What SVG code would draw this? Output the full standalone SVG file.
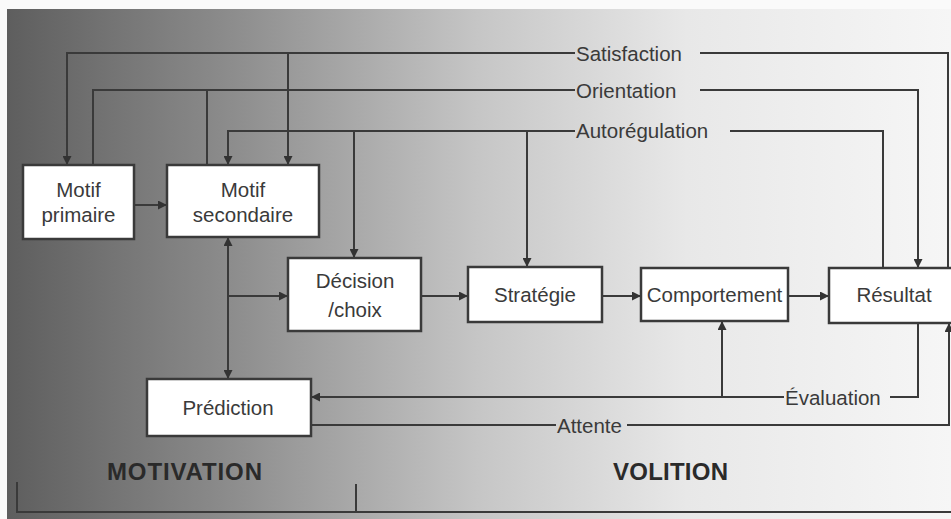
<svg xmlns="http://www.w3.org/2000/svg" width="951" height="519" viewBox="0 0 951 519">
<defs>
<linearGradient id="bg" x1="0" y1="0" x2="1" y2="0">
<stop offset="0" stop-color="#5e5e5e"/>
<stop offset="0.25" stop-color="#8f8f8f"/>
<stop offset="0.5" stop-color="#c6c6c6"/>
<stop offset="0.72" stop-color="#e8e8e8"/>
<stop offset="1" stop-color="#f6f6f6"/>
</linearGradient>
<marker id="arr" viewBox="0 0 10 10" refX="10" refY="5" markerWidth="9" markerHeight="9" markerUnits="userSpaceOnUse" orient="auto">
<path d="M0,0 L10,5 L0,10 z" fill="#333"/>
</marker>
</defs>
<style>
.box{fill:#fff;stroke:#3a3a3a;stroke-width:2.5}
.t{font-family:"Liberation Sans",Arial,sans-serif;font-size:20.5px;fill:#3a3a3a}
.c{text-anchor:middle}
.ln{fill:none;stroke:#3a3a3a;stroke-width:2}
.a{marker-end:url(#arr)}
.h{font-family:"Liberation Sans",Arial,sans-serif;font-weight:bold;font-size:24px;fill:#2a2a2a}
</style>
<rect x="0" y="0" width="951" height="519" fill="#fafafa"/>
<rect x="7" y="9" width="944" height="510" fill="url(#bg)"/>

<g id="connectors">
<!-- Satisfaction -->
<path class="ln" d="M948,268 L948,53 L700,53"/>
<path class="ln a" d="M575,53 L67,53 L67,165"/>
<path class="ln a" d="M288,53 L288,165"/>
<!-- Orientation -->
<path class="ln" d="M93,165 L93,90 L575,90"/>
<path class="ln" d="M207,165 L207,90"/>
<path class="ln a" d="M700,90 L918,90 L918,268"/>
<!-- Autoregulation -->
<path class="ln" d="M883,268 L883,131 L730,131"/>
<path class="ln a" d="M575,131 L228,131 L228,165"/>
<path class="ln a" d="M354,131 L354,258"/>
<path class="ln a" d="M527,131 L527,267"/>
<!-- main flow -->
<path class="ln a" d="M134,205 L167,205"/>
<path class="ln a" d="M228,296 L228,237"/>
<path class="ln a" d="M228,296 L228,379"/>
<path class="ln a" d="M228,296 L288,296"/>
<path class="ln a" d="M421,296 L468,296"/>
<path class="ln a" d="M602,296 L641,296"/>
<path class="ln a" d="M788,296 L829,296"/>
<!-- Evaluation -->
<path class="ln" d="M918,323 L918,397 L890,397"/>
<path class="ln a" d="M784,397 L311,397"/>
<path class="ln a" d="M722,397 L722,321"/>
<!-- Attente -->
<path class="ln" d="M311,425 L556,425"/>
<path class="ln a" d="M627,425 L949,425 L949,323"/>
<!-- bracket -->
<path class="ln" d="M17,482 L17,512 L951,512"/>
<path class="ln" d="M356,484 L356,512"/>
</g>

<g id="labels">
<text class="t" x="576" y="61">Satisfaction</text>
<text class="t" x="576" y="98">Orientation</text>
<text class="t" x="576" y="138">Autorégulation</text>
<text class="t" x="785" y="405">Évaluation</text>
<text class="t" x="557" y="433">Attente</text>
<text class="h" x="107" y="480" textLength="155">MOTIVATION</text>
<text class="h" x="613" y="480" textLength="115">VOLITION</text>
</g>

<g id="motif-primaire">
<rect class="box" x="23" y="165" width="111" height="74"/>
<text class="t c" x="78.5" y="197">Motif</text>
<text class="t c" x="78.5" y="222">primaire</text>
</g>
<g id="motif-secondaire">
<rect class="box" x="167" y="165" width="152" height="72"/>
<text class="t c" x="243" y="197">Motif</text>
<text class="t c" x="243" y="222">secondaire</text>
</g>
<g id="decision">
<rect class="box" x="288" y="258" width="133" height="73"/>
<text class="t c" x="355" y="288">Décision</text>
<text class="t c" x="355" y="317">/choix</text>
</g>
<g id="strategie">
<rect class="box" x="468" y="267" width="134" height="55"/>
<text class="t c" x="535" y="302">Stratégie</text>
</g>
<g id="comportement">
<rect class="box" x="641" y="268" width="147" height="53"/>
<text class="t c" x="714.5" y="302">Comportement</text>
</g>
<g id="resultat">
<rect class="box" x="829" y="268" width="124" height="55"/>
<text class="t c" x="894" y="302">Résultat</text>
</g>
<g id="prediction">
<rect class="box" x="147" y="379" width="164" height="57"/>
<text class="t c" x="228" y="415">Prédiction</text>
</g>
</svg>
